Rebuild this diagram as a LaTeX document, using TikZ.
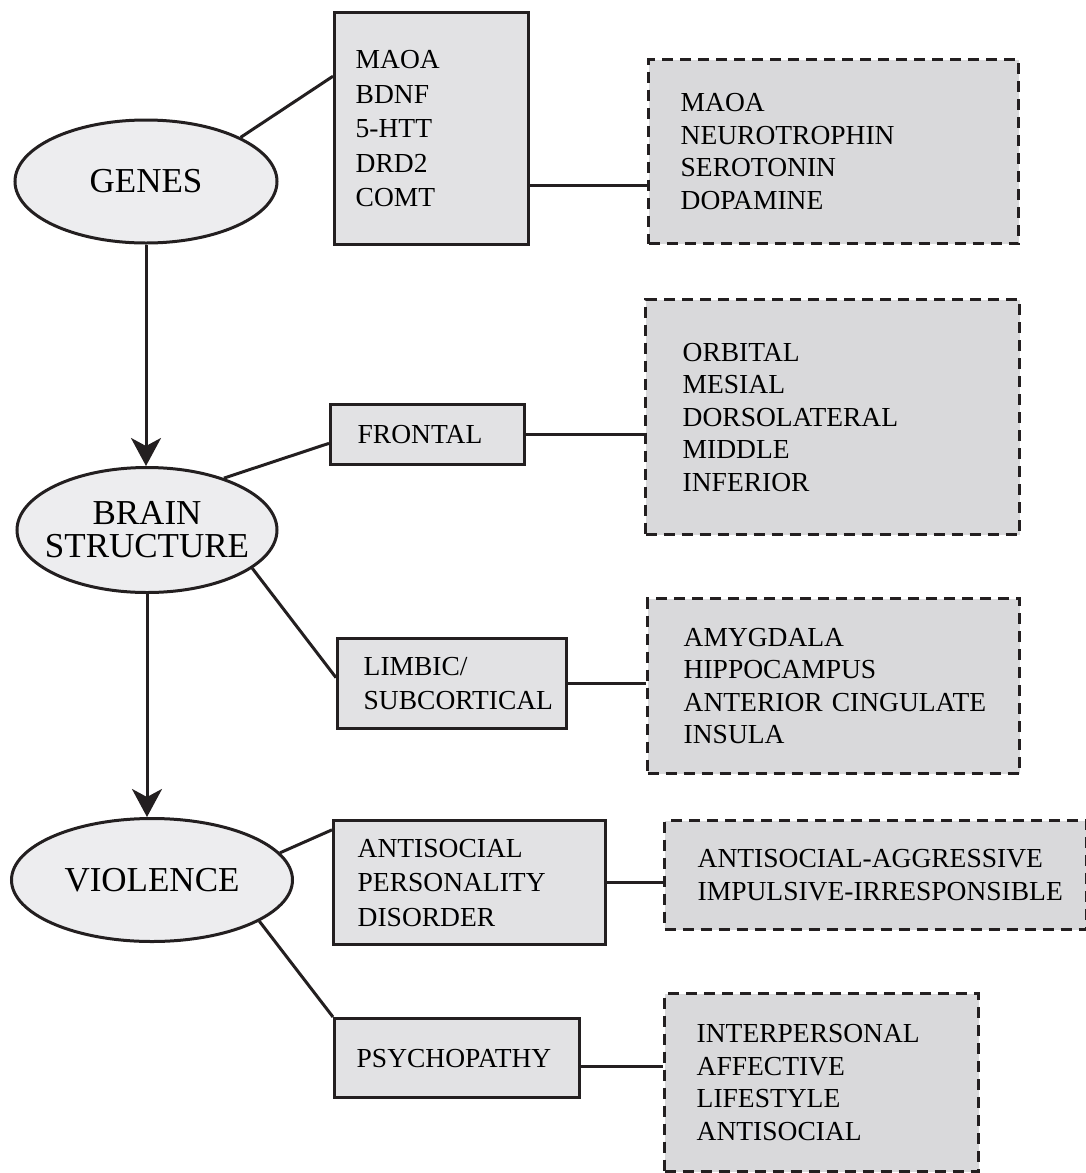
\documentclass[tikz,border=0pt]{standalone}
\usepackage{fontspec}
\setmainfont{Liberation Serif}
\usetikzlibrary{arrows.meta,shapes.geometric}

\definecolor{inkline}{RGB}{35,31,32}
\definecolor{ovalfill}{RGB}{237,237,239}
\definecolor{boxfill}{RGB}{226,226,228}
\definecolor{dashfill}{RGB}{217,217,219}

\newcommand{\nobreaks}{\hyphenpenalty=10000\exhyphenpenalty=10000}

\tikzset{
    oval/.style={ellipse, draw=inkline, line width=3pt, fill=ovalfill,
        inner sep=0pt, align=center, font=\fontsize{35}{33}\selectfont},
    solidbox/.style 2 args={rectangle, draw=inkline, line width=3.4pt, fill=boxfill,
        anchor=north west, align=left, text width=#1, inner xsep=#2, inner ysep=0pt,
        font=\fontsize{27.5}{34.5}\selectfont\nobreaks},
    dashbox/.style 2 args={rectangle, draw=inkline, line width=3.4pt, fill=dashfill,
        dash pattern=on 11pt off 7pt, anchor=north west, align=left,
        text width=#1, inner xsep=#2, inner ysep=0pt,
        font=\fontsize{27.5}{32.5}\selectfont\nobreaks},
    link/.style={draw=inkline, line width=3pt},
    flow/.style={link, -{Stealth[length=28pt, width=30pt, inset=8pt]}}
}

\begin{document}
\begin{tikzpicture}[x=1pt,y=-1pt]
    \useasboundingbox (0,0) rectangle (1086,1173);
    % the three levels
    \node[oval, minimum width=262, minimum height=123] (genes) at (146,181.5) {GENES};
    \node[oval, inner xsep=-16pt, minimum width=260, minimum height=125] (brain)
        at (147,530) {BRAIN\\STRUCTURE};
    \node[oval, minimum width=281, minimum height=123] (violence) at (152,880) {VIOLENCE};
    % middle column
    \node[solidbox={152}{21}, minimum height=232] (genesbox) at (333,11)
        {MAOA\\BDNF\\5-HTT\\DRD2\\COMT};
    \node[solidbox={140}{27}, minimum height=60] (frontal) at (329,403) {FRONTAL};
    \node[solidbox={177}{26}, minimum height=90] (limbic) at (336,637)
        {LIMBIC/\\SUBCORTICAL};
    \node[solidbox={224}{24}, minimum height=124] (aspd) at (332,819)
        {ANTISOCIAL\\PERSONALITY\\DISORDER};
    \node[solidbox={201}{22}, minimum height=79] (psycho) at (333,1017) {PSYCHOPATHY};
    % right column
    \node[dashbox={306}{32}, minimum height=184] (dash1) at (647,58)
        {MAOA\\NEUROTROPHIN\\SEROTONIN\\DOPAMINE};
    \node[dashbox={300}{37}, minimum height=235] (dash2) at (644,298)
        {ORBITAL\\MESIAL\\DORSOLATERAL\\MIDDLE\\INFERIOR};
    \node[dashbox={300}{36}, minimum height=175] (dash3) at (646,597)
        {AMYGDALA\\HIPPOCAMPUS\\ANTERIOR~CINGULATE\\INSULA};
    \node[dashbox={356}{33}, minimum height=109] (dash4) at (663,819)
        {ANTISOCIAL-AGGRESSIVE\\IMPULSIVE-IRRESPONSIBLE};
    \node[dashbox={250}{32}, minimum height=178] (dash5) at (663,992)
        {INTERPERSONAL\\AFFECTIVE\\LIFESTYLE\\ANTISOCIAL};
    % connectors
    \draw[flow] (genes.south) -- (genes.south |- brain.north);
    \draw[flow] (brain.south) -- (brain.south |- violence.north);
    \draw[link] (genes.25) -- (genesbox.152);
    \draw[link] (genesbox.330) -- (genesbox.330 -| dash1.west);
    \draw[link] (brain.34) -- (frontal.185);
    \draw[link] (frontal.east) -- (frontal.east -| dash2.west);
    \draw[link] (brain.340) -- (limbic.177);
    \draw[link] (limbic.east) -- (limbic.east -| dash3.west);
    \draw[link] (violence.12) -- (aspd.159);
    \draw[link] (aspd.east) -- (aspd.east -| dash4.west);
    \draw[link] (violence.339) -- (psycho.north west);
    \draw[link] (psycho.356) -- (psycho.356 -| dash5.west);
\end{tikzpicture}
\end{document}
